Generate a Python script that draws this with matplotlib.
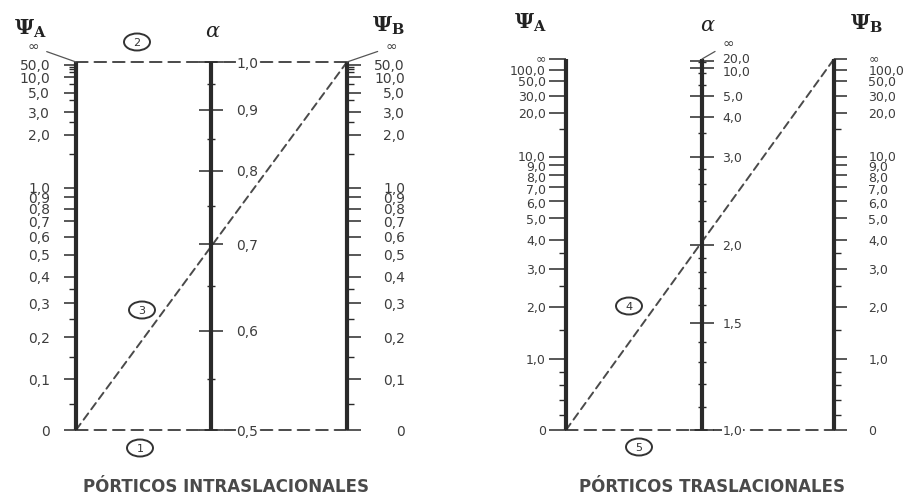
import numpy as np
import matplotlib
matplotlib.use('Agg')
import matplotlib.pyplot as plt
from matplotlib.patches import ConnectionPatch, Ellipse
from matplotlib.transforms import ScaledTranslation

plt.rcParams['font.family'] = ['DejaVu Sans']
plt.rcParams['mathtext.fontset'] = 'dejavuserif'

INF = 1e12  # position of the "∞" end of the G scales

# ---- braced frames (pórticos intraslacionales) ----
nb_g_major = [0, 0.1, 0.2, 0.3, 0.4, 0.5, 0.6, 0.7, 0.8, 0.9, 1.0, 2.0, 3.0, 5.0, 10.0, 50.0]
nb_g_minor = [0.05, 0.15, 0.25, 0.35, 1.5, 2.5, 4.0, 7.0, 15.0, 20.0, 30.0]
nb_k_major = [0.5, 0.6, 0.7, 0.8, 0.9, 1.0]
nb_k_minor = [0.55, 0.65, 0.75, 0.85, 0.95]

# ---- sway frames (pórticos traslacionales) ----
sw_g_major = [0, 1.0, 2.0, 3.0, 4.0, 5.0, 6.0, 7.0, 8.0, 9.0, 10.0, 20.0, 30.0, 50.0, 100.0, INF]
sw_g_minor = [0.2, 0.4, 0.6, 0.8, 1.5, 2.5, 3.5, 15.0]
sw_k_major = [1.0, 1.5, 2.0, 3.0, 4.0, 5.0, 10.0, 20.0]
sw_k_minor = [1.1, 1.2, 1.3, 1.4, 1.6, 1.7, 1.8, 1.9, 2.2, 2.4, 2.6, 2.8, 3.5, 6.0, 8.0, 15.0]

# scale constants of the G rulers
NB_C, NB_P = 0.52, 1.08
SW_C, SW_P = 4.21, 1.07

# small vertical shifts (points) that spread crowded labels apart
sw_g_shift = {INF: 1.5, 10.0: 0.8, 9.0: -0.3, 8.0: -1.3, 7.0: -2.0, 6.0: -1.2, 5.0: -0.8}
sw_k_shift = {20.0: 1.8, 10.0: -2.2}

INK = '#2a2a2a'
TXT = '#3d3d3d'


def fmt(v):
    if v == 0:
        return '0'
    if v >= INF:
        return '\u221e'
    return f'{v:.1f}'.replace('.', ',')


def g_fwd(c, p):
    def f(g):
        gp = np.clip(np.asarray(g, float), 0, None) ** p
        return gp / (gp + c)
    return f


def g_inv(c, p):
    def f(y):
        y = np.clip(np.asarray(y, float), 0, 1 - 1e-15)
        return (c * y / (1 - y)) ** (1 / p)
    return f


def nb_k_fwd(k):
    t = (np.asarray(k, float) - 0.5) / 0.5
    return 1.4375 * t - 0.4375 * t ** 2


def nb_k_inv(y):
    y = np.asarray(y, float)
    t = (1.4375 - np.sqrt(np.clip(1.4375 ** 2 - 4 * 0.4375 * y, 0, None))) / (2 * 0.4375)
    return 0.5 + 0.5 * t


def sw_k_fwd(k):
    # G for equal end restraints that gives K in a sway frame
    k = np.clip(np.asarray(k, float), 1.0, None)
    g = 6 * k / np.pi / np.tan(np.pi / (2 * k))
    return g_fwd(SW_C, SW_P)(g)


k_grid = np.geomspace(1.0, 1e6, 6000)
y_grid = sw_k_fwd(k_grid)


def sw_k_inv(y):
    return np.interp(y, y_grid, k_grid)


W, H = 907, 498
BOTTOM = 430
fig = plt.figure(figsize=(W / 100, H / 100), dpi=100)
fig.patch.set_facecolor('white')


def column(x, top, funcs, lims, major, minor, side, length, pad,
           ha=None, size=10, shift=None):
    ax = fig.add_axes([x / W, 1 - BOTTOM / H, 0.0004, (BOTTOM - top) / H])
    ax.set_yscale('function', functions=funcs)
    ax.set_xlim(0, 1)
    ax.patch.set_visible(False)
    ax.xaxis.set_visible(False)
    for s in ax.spines.values():
        s.set_visible(False)
    sp = ax.spines['right' if side == 'right' else 'left']
    sp.set_visible(True)
    sp.set_linewidth(3.0)
    sp.set_color(INK)
    sp.set_capstyle('butt')
    ax.set_yticks(major, [fmt(v) for v in major])
    ax.set_yticks(minor, minor=True)
    ax.set_ylim(*lims)
    if side == 'left':
        ax.tick_params(axis='y', which='both', left=True, right=False,
                       labelleft=True, labelright=False, direction='out')
    elif side == 'mid':
        ax.tick_params(axis='y', which='both', left=True, right=False,
                       labelleft=False, labelright=True, direction='inout')
    else:
        ax.tick_params(axis='y', which='both', left=False, right=True,
                       labelleft=False, labelright=True, direction='out')
    ax.tick_params(axis='y', which='major', length=length, width=1.1,
                   color=INK, pad=pad, labelsize=size, labelcolor=TXT)
    ax.tick_params(axis='y', which='minor', length=5 if side != 'mid' else 6,
                   width=1.0, color=INK)
    shift = shift or {}
    for v, t in zip(major, ax.yaxis.get_major_ticks()):
        for lab in (t.label1, t.label2):
            if ha:
                lab.set_ha(ha)
            if side == 'mid':
                lab.set_bbox(dict(fc='white', ec='none', pad=0.6))
            if v in shift:
                off = ScaledTranslation(0, shift[v] / 72, fig.dpi_scale_trans)
                lab.set_transform(lab.get_transform() + off)
    return ax


nb_funcs = (g_fwd(NB_C, NB_P), g_inv(NB_C, NB_P))
sw_funcs = (g_fwd(SW_C, SW_P), g_inv(SW_C, SW_P))

nbA = column(76, 62, nb_funcs, (0, INF), nb_g_major, nb_g_minor, 'left', 9, 9.5)
nbK = column(211, 62, (nb_k_fwd, nb_k_inv), (0.5, 1.0), nb_k_major, nb_k_minor, 'mid', 17, 9.5)
nbB = column(347, 62, nb_funcs, (0, INF), nb_g_major, nb_g_minor, 'right', 10, 31.5, ha='right')

swA = column(566, 59, sw_funcs, (0, INF), sw_g_major, sw_g_minor, 'left', 12, 2.5,
             size=9, shift=sw_g_shift)
swK = column(702, 59, (sw_k_fwd, sw_k_inv), (1.0, 40.0), sw_k_major, sw_k_minor, 'mid', 17, 6,
             size=9, shift=sw_k_shift)
swB = column(834, 59, sw_funcs, (0, INF), sw_g_major, sw_g_minor, 'right', 9.5, 15,
             size=9, shift=sw_g_shift)


def dash(axA, va, axB, vb, pattern):
    con = ConnectionPatch(xyA=(0, va), coordsA=axA.transData,
                          xyB=(0, vb), coordsB=axB.transData,
                          color='#4a4a4a', lw=1.4, linestyle=(0, pattern),
                          zorder=-1)
    fig.add_artist(con)


# reading lines across the rulers
dash(nbA, 0, nbB, 0, (6, 3.5))
dash(nbA, INF, nbB, INF, (6, 3.5))
dash(nbA, 0, nbB, INF, (4, 2.6))
dash(swA, 0, swB, 0, (6, 3.5))
dash(swA, 0, swB, INF, (4, 2.6))


def infinity(ax, top, dx, dy):
    ax.annotate('\u221e', xy=(0, top), xycoords='data',
                xytext=(dx, dy), textcoords='offset points',
                ha='center', va='center', fontsize=10, color=TXT,
                annotation_clip=False,
                arrowprops=dict(arrowstyle='-', lw=0.9, color='#555',
                                shrinkA=4, shrinkB=0))


infinity(nbA, INF, -31, 11)
infinity(nbB, INF, 32, 11)
infinity(swK, 40.0, 19, 11)

# overlay in pixel units for headings and markers
ov = fig.add_axes([0, 0, 1, 1])
ov.set_xlim(0, W)
ov.set_ylim(H, 0)
ov.axis('off')

heads = [(r'$\mathbf{\Psi}_{\mathbf{A}}$', 30, 29), (r'$\alpha$', 213, 31),
         (r'$\mathbf{\Psi}_{\mathbf{B}}$', 388, 26),
         (r'$\mathbf{\Psi}_{\mathbf{A}}$', 530, 23), (r'$\alpha$', 708, 25),
         (r'$\mathbf{\Psi}_{\mathbf{B}}$', 866, 24)]
for s, x, y in heads:
    ov.text(x, y, s, ha='center', va='center', fontsize=15, color='#222')

markers = [('2', 137, 42), ('3', 142, 310), ('1', 140, 448), ('4', 629, 306), ('5', 639, 447)]
for s, x, y in markers:
    ov.add_patch(Ellipse((x, y), 26, 17, fc='white', ec='#333', lw=1.4))
    ov.text(x, y + 0.5, s, ha='center', va='center', fontsize=8, color='#333')

ov.text(226, 487, 'PÓRTICOS INTRASLACIONALES', ha='center', va='center',
        fontsize=12, fontweight='bold', color='#4a4a4a')
ov.text(712, 487, 'PÓRTICOS TRASLACIONALES', ha='center', va='center',
        fontsize=12, fontweight='bold', color='#4a4a4a')

fig.savefig('out.png', dpi=100, facecolor='white')
